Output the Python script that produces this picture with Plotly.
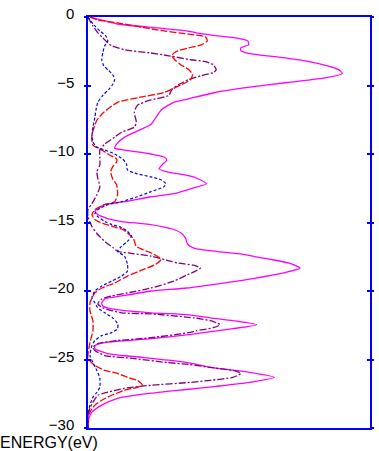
import plotly.graph_objects as go

# Energies (eV) and DOS (arbitrary units)
e_total = [0, -0.22, -0.51, -0.80, -1.01, -1.16, -1.38, -1.52, -1.74, -2.03, -2.25, -2.46, -2.68, -2.90,
           -3.19, -3.55, -3.84, -4.13, -4.42, -4.78, -5.14, -5.51, -6.01, -6.23, -6.74, -7.32, -7.83,
           -8.26, -8.77, -9.28, -9.57, -9.71, -10.00, -10.22, -10.43, -10.80, -11.09, -11.30, -11.67,
           -12.17, -12.54, -12.90, -13.12, -13.48, -13.70, -13.99, -14.20, -14.42, -14.71, -14.93,
           -15.14, -15.51, -15.80, -16.16, -16.59, -16.88, -17.10, -17.32, -17.68, -17.97, -18.33,
           -18.70, -19.06, -19.42, -19.78, -20.00, -20.36, -20.58, -20.87, -21.09, -21.30, -21.59,
           -21.74, -21.96, -22.17, -22.46, -22.75, -23.04, -23.19, -23.48, -23.77, -23.99, -24.20,
           -24.57, -24.86, -25.07, -25.29, -25.58, -25.94, -26.30, -26.67, -26.96, -27.17, -27.46,
           -27.83, -28.33, -28.84, -29.28, -29.78, -30.0]
dos_total = [0.2, 1.4, 3.0, 7.0, 10.0, 11.0, 13.2, 15.0, 16.2, 16.3, 15.5, 15.5, 16.4, 19.0,
             21.9, 24.2, 25.4, 25.8, 24.2, 20.2, 16.2, 12.9, 10.0, 8.7, 7.5, 6.9, 6.4,
             5.2, 3.7, 2.9, 2.7, 3.7, 6.4, 7.7, 8.0, 7.5, 7.2, 8.0, 10.7,
             12.0, 10.4, 8.7, 6.4, 3.7, 1.7, 1.0, 0.7, 1.0, 2.0, 3.4,
             6.2, 8.7, 9.5, 9.9, 10.1, 10.8, 13.0, 15.7, 18.4, 20.4, 21.5,
             19.7, 17.0, 13.7, 10.0, 6.4, 3.4, 1.7, 1.4, 1.5, 2.4, 6.4,
             10.2, 12.4, 14.7, 17.1, 14.7, 11.7, 10.2, 6.4, 1.7, 0.7, 0.7,
             2.0, 5.7, 8.4, 10.5, 12.4, 16.4, 18.9, 16.4, 13.0, 10.2, 6.4,
             3.0, 1.4, 0.4, 0.1, 0.0, 0.0]

e_purple = [0, -0.29, -0.65, -1.16, -1.52, -1.88, -2.10, -2.39, -2.61, -2.83, -3.12, -3.26, -3.48,
            -3.84, -4.06, -4.28, -4.57, -4.93, -5.29, -5.72, -6.09, -6.45, -6.96, -7.68, -8.04, -8.41,
            -8.77, -9.28, -9.71, -10.22, -10.80, -11.30, -11.81, -12.39, -12.97, -13.62, -14.06,
            -14.57, -15.29, -15.80, -16.38, -16.81, -17.10, -17.25, -17.46, -17.83, -17.97, -18.12,
            -18.33, -18.55, -18.84, -19.28, -19.78, -20.14, -20.36, -20.58, -20.94, -21.23, -21.59,
            -21.67, -21.96, -22.03, -22.17, -22.32, -22.46, -22.68, -22.90, -23.04, -23.41, -23.62,
            -23.84, -24.13, -24.35, -24.71, -24.93, -25.22, -25.36, -25.58, -25.80, -26.01, -26.30,
            -26.52, -26.67, -26.88, -27.10, -27.39, -27.61, -28.12, -28.55, -29.06, -30.0]
dos_purple = [0.0, 0.2, 0.5, 1.0, 1.5, 2.0, 2.4, 3.7, 6.2, 8.2, 10.4, 11.9, 12.7,
              13.0, 12.7, 11.5, 10.2, 9.2, 8.5, 8.2, 6.2, 5.0, 4.7, 4.9, 4.7, 3.4,
              2.7, 1.7, 1.2, 1.2, 1.2, 0.9, 1.0, 1.2, 0.9, 0.4, 0.0,
              0.0, 0.4, 0.9, 1.7, 2.5, 3.0, 4.4, 6.4, 8.4, 9.2, 10.7,
              11.4, 10.9, 10.0, 8.7, 6.4, 4.0, 2.4, 1.4, 1.0, 1.5, 3.4,
              6.4, 10.7, 11.4, 12.4, 13.0, 13.4, 12.7, 11.0, 10.2, 6.4, 3.0,
              1.0, 0.5, 0.7, 1.7, 4.7, 8.0, 10.2, 12.4, 14.7, 15.5, 14.7,
              12.4, 10.4, 6.4, 3.7, 2.0, 1.0, 0.5, 0.2, 0.0, 0.0]

e_red = [0, -0.22, -0.43, -0.94, -1.30, -1.45, -1.74, -2.03, -2.25, -2.54, -2.83, -3.12, -3.48,
         -3.84, -4.20, -4.57, -4.93, -5.51, -5.87, -6.23, -6.96, -7.54, -8.62, -9.35, -9.71,
         -10.07, -10.36, -10.58, -10.94, -11.30, -11.81, -12.25, -12.97, -13.48, -13.70, -14.06,
         -14.42, -14.78, -15.07, -15.29, -15.51, -15.87, -16.16, -16.74, -16.96, -17.25, -17.68,
         -18.04, -18.41, -18.91, -19.42, -19.78, -20.14, -20.87, -21.45, -22.17, -22.90, -23.77,
         -24.93, -25.43, -25.80, -26.01, -26.30, -26.52, -26.88, -27.03, -27.25, -27.61, -27.97,
         -28.33, -28.84, -29.20, -30.0]
dos_red = [0.2, 1.0, 3.0, 7.0, 10.7, 11.9, 12.1, 11.5, 10.2, 8.9, 8.5, 8.8, 9.4,
           10.2, 10.6, 10.4, 9.5, 7.7, 5.2, 3.0, 1.6, 0.9, 0.4, 0.5, 1.4,
           2.2, 2.9, 2.9, 2.5, 2.3, 2.5, 2.9, 3.0, 2.7, 1.7, 0.7,
           0.4, 0.7, 1.5, 2.5, 3.5, 4.2, 4.6, 4.9, 5.5, 6.5, 7.4,
           6.9, 5.7, 4.0, 2.7, 1.4, 0.7, 0.2, 0.2, 0.5, 0.5, 0.2,
           0.0, 0.7, 1.7, 3.0, 4.0, 5.0, 5.5, 5.0, 3.7, 2.4, 1.4,
           0.7, 0.2, 0.0, 0.0]

e_blue = [0, -0.22, -0.65, -1.01, -1.38, -1.74, -2.10, -2.61, -3.12, -3.55, -3.91, -4.20, -4.57,
          -4.93, -5.29, -5.72, -6.23, -6.81, -7.32, -8.04, -8.77, -9.13, -9.49, -9.71, -10.00,
          -10.36, -10.72, -11.16, -11.45, -11.67, -11.88, -12.17, -12.39, -12.75, -13.12, -13.48,
          -13.70, -14.06, -14.35, -14.57, -14.93, -15.14, -15.36, -15.65, -16.01, -16.38, -16.74,
          -17.10, -17.46, -18.04, -18.55, -18.91, -19.28, -19.64, -20.00, -20.51, -20.87, -21.23,
          -21.59, -21.96, -22.39, -22.75, -23.04, -23.26, -23.62, -23.99, -24.71, -25.22, -25.80,
          -26.38, -27.03, -27.39, -27.75, -28.33, -29.06, -30.0]
dos_blue = [0.0, 0.2, 0.7, 1.2, 1.8, 2.0, 1.7, 1.5, 1.4, 1.6, 2.1, 2.5, 2.7,
            2.5, 2.1, 1.5, 1.0, 0.8, 0.7, 0.5, 0.4, 0.5, 0.9, 1.7, 2.7,
            3.5, 3.9, 4.0, 5.0, 6.4, 7.4, 7.9, 7.7, 6.4, 5.0, 3.4,
            2.0, 1.0, 0.7, 1.0, 1.7, 2.4, 3.4, 4.0, 4.4, 4.0, 3.4,
            3.0, 3.7, 4.0, 4.0, 3.4, 2.4, 1.4, 0.7, 0.4, 0.7, 1.0,
            1.7, 2.5, 3.0, 3.0, 2.4, 1.4, 0.7, 0.4, 0.2, 0.5, 0.9,
            1.2, 1.2, 0.9, 0.5, 0.2, 0.0, 0.0]

y_ticks = [0, -5, -10, -15, -20, -25, -30]

fig = go.Figure()
fig.add_trace(go.Scatter(x=dos_total, y=e_total, mode="lines", hoverinfo="skip",
                         line=dict(color="#ff00ff", width=1.3, shape="spline", smoothing=0.6)))
fig.add_trace(go.Scatter(x=dos_purple, y=e_purple, mode="lines", hoverinfo="skip",
                         line=dict(color="#800080", width=1.3, shape="spline", smoothing=0.6,
                                   dash="7px,2px,2px,2px")))
fig.add_trace(go.Scatter(x=dos_red, y=e_red, mode="lines", hoverinfo="skip",
                         line=dict(color="#ff0000", width=1.3, shape="spline", smoothing=0.6,
                                   dash="7px,2px")))
fig.add_trace(go.Scatter(x=dos_blue, y=e_blue, mode="lines", yaxis="y2", hoverinfo="skip",
                         line=dict(color="#0000ff", width=1.2, shape="spline", smoothing=0.6,
                                   dash="3px,2px")))

fig.update_layout(
    width=379, height=451,
    margin=dict(l=88, r=5, t=14, b=23),
    paper_bgcolor="white", plot_bgcolor="white",
    showlegend=False,
    xaxis=dict(range=[0, 28.6], showticklabels=False, ticks="", showgrid=False, zeroline=False,
               showline=True, mirror=True, linecolor="#0000ff", linewidth=1.5),
    yaxis=dict(range=[-30, 0], tickvals=y_ticks, ticks="outside", ticklen=2, tickcolor="#0000ff",
               tickwidth=1.5, mirror="ticks", showgrid=False, zeroline=False,
               showline=True, linecolor="#0000ff", linewidth=1.5,
               tickfont=dict(family="Liberation Sans", size=15, color="black"),
               ticklabelstandoff=7, ticklabelshift=-3),
    yaxis2=dict(range=[-30, 0], tickvals=y_ticks, overlaying="y", side="left", ticks="inside",
                ticklen=3, tickcolor="#0000ff", tickwidth=1.5, mirror="ticks",
                showticklabels=False, showgrid=False, zeroline=False, showline=False),
    annotations=[dict(text="ENERGY(eV)", xref="paper", yref="paper", x=-88/286, y=0,
                      xanchor="left", yanchor="top", showarrow=False, yshift=-5, xshift=-2,
                      borderpad=0,
                      font=dict(family="Liberation Sans", size=16, color="black"))],
)

fig.write_html("out.html", config={"displayModeBar": False},
               post_script="document.body.style.margin='0';document.body.style.overflow='hidden';")
